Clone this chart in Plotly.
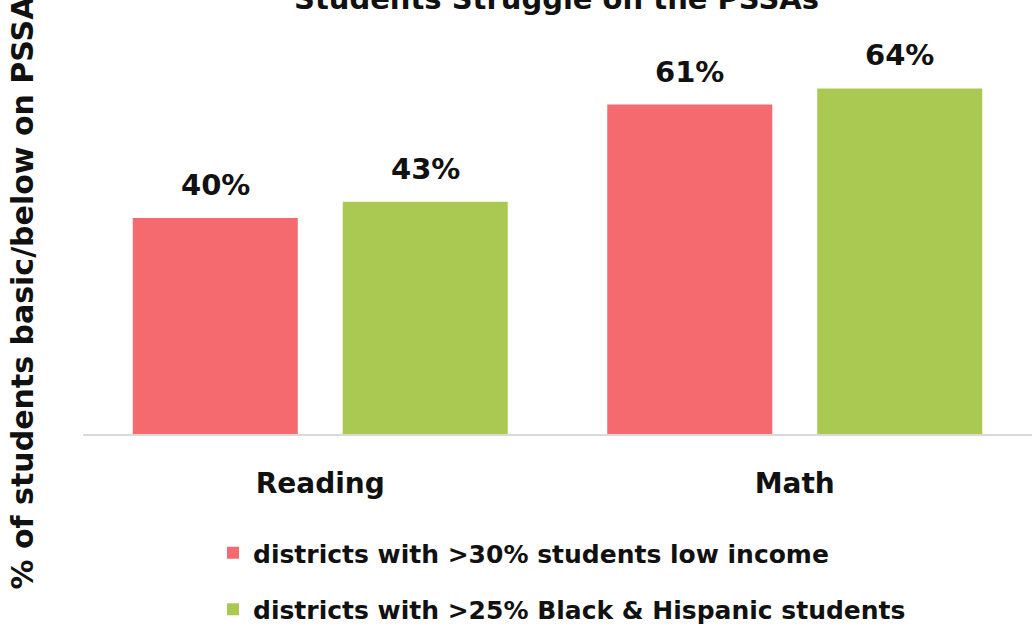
import plotly.graph_objects as go

categories = ["Reading", "Math"]
low_income = [40, 61]
black_hispanic = [43, 64]
series_names = ["districts with >30% students low income",
                "districts with >25% Black & Hispanic students"]
colors = ["#F46A6E", "#A9C952"]
title_text = "Students Struggle on the PSSAs"
y_title = "% of students basic/below on PSSA"

FONT = "DejaVu Sans"
TXT = "#111111"

W, H = 1032, 630
ML, MB = 83, 196
PLOT_H = H - MB

fig = go.Figure()
for i, (name, vals) in enumerate(zip(series_names, [low_income, black_hispanic])):
    fig.add_trace(go.Bar(
        x=categories, y=vals, name=f"<b>{name}</b>", marker_color=colors[i],
        marker_line_width=0, legendgroup=f"g{i}",
    ))

# value labels above bars
for i, vals in enumerate([low_income, black_hispanic]):
    for c, v in zip(categories, vals):
        fig.add_annotation(x=c, y=v, xref="x", yref="y", text=f"<b>{v}%</b>",
                           showarrow=False, yanchor="bottom",
                           xshift=(-105 if i == 0 else 105), yshift=14,
                           font=dict(family=FONT, size=29, color=TXT))

# title (partly cut off at top, as in the reference)
fig.add_annotation(text=f"<b>{title_text}</b>", xref="paper", yref="paper",
                   x=(556 - ML) / (W - ML), y=1.0, yshift=-18, yanchor="bottom",
                   showarrow=False, font=dict(family=FONT, size=29, color=TXT))

# y axis title
fig.add_annotation(text=f"<b>{y_title}</b>", xref="paper", yref="paper",
                   x=0, xshift=-(ML - 22), y=(PLOT_H - 292.5) / PLOT_H, yanchor="middle",
                   xanchor="center", textangle=-90, showarrow=False,
                   font=dict(family=FONT, size=30, color=TXT))

fig.update_layout(
    width=W, height=H,
    margin=dict(l=ML, r=0, t=0, b=MB, autoexpand=False),
    barmode="group", bargap=0.115, bargroupgap=0.214,
    plot_bgcolor="white", paper_bgcolor="white",
    showlegend=True,
    legend=dict(orientation="v", x=(213 - ML) / (W - ML), xanchor="left",
                y=-(530 - PLOT_H) / PLOT_H, yanchor="top",
                font=dict(family=FONT, size=25, color=TXT),
                traceorder="grouped", tracegroupgap=21, itemwidth=30),
    font=dict(family=FONT, color=TXT),
)
fig.update_yaxes(range=[0, PLOT_H / 5.4], showticklabels=False, showgrid=False,
                 zeroline=False, showline=False, ticks="")
fig.update_xaxes(showline=True, linecolor="#d9d9d9", linewidth=2, ticks="",
                 tickfont=dict(family=FONT, size=28, color=TXT),
                 ticklabelstandoff=23,
                 tickvals=categories, ticktext=[f"<b>{c}</b>" for c in categories])

fig.write_html("out.html", config={"displayModeBar": False},
               post_script="document.body.style.margin='0';")
